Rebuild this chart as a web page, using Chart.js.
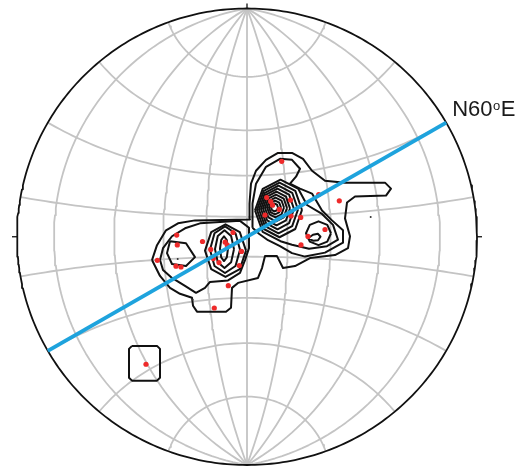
<!DOCTYPE html>
<html>
<head>
<meta charset="utf-8">
<script src="https://cdn.jsdelivr.net/npm/chart.js@4.4.1/dist/chart.umd.min.js"></script>
<style>
  html, body { margin: 0; padding: 0; background: #fff; }
  #wrap { width: 520px; height: 469px; }
</style>
</head>
<body>
<div id="wrap"><canvas id="net" width="520" height="469"></canvas></div>
<script>
// equal-angle (Wulff) net, radius in plot units
const netRadius = 23;
const greatCircleDips = [10, 30, 50, 70];
const smallCircleCones = [20, 40, 60, 80];
const lineTrend = 60;

// projected poles
const poleX = [3.47, 1.97, 2.37, 2.55, 4.35, 3.23, 1.80, 4.40, 5.37, 7.17, 9.23, 7.80, 6.10, 5.40,
  -7.03, -6.97, -8.97, -7.10, -6.60, -4.45, -3.63, -2.18, -1.97, -1.40, -3.37, -2.80, -0.55, -0.77,
  -1.87, -3.27, -10.10];
const poleY = [7.60, 3.95, 3.55, 3.18, 3.70, 2.75, 2.18, 2.10, 1.95, 4.25, 3.62, 0.73, 0.03, -0.82,
  0.17, -0.82, -2.38, -2.97, -3.05, -0.48, -1.28, -0.55, -0.85, 0.43, -2.20, -2.60, -1.48, -2.90,
  -4.93, -7.18, -12.85];
const minorX = [12.37, -6.93, -5.43];
const minorY = [1.98, -2.25, -6.35];

// density contours
const contourOuter = [[-9.5,-2.35],[-9.0,-0.85],[-8.1,0.65],[-6.9,1.35],[-5.2,1.65],[0.3,1.75],[0.25,3.35],
  [0.4,5.35],[0.9,6.65],[1.9,7.75],[3.1,8.45],[4.5,8.45],[5.6,7.85],[6.5,6.65],[7.8,5.65],[9.8,5.45],
  [13.8,5.45],[14.4,4.85],[13.9,4.15],[10.8,4.05],[10.0,3.45],[9.8,1.85],[10.3,0.05],[10.1,-1.15],
  [8.8,-1.85],[6.3,-2.15],[4.8,-2.95],[3.6,-3.15],[3.0,-1.95],[1.8,-1.95],[1.5,-3.15],[1.1,-4.15],
  [-0.9,-4.65],[-1.5,-5.15],[-1.6,-7.15],[-2.1,-7.55],[-5.0,-7.55],[-5.4,-6.95],[-5.5,-6.15],
  [-6.7,-5.75],[-7.7,-5.15],[-8.7,-3.95],[-9.5,-2.35]];
const contourLeft2 = [[-8.7,-2.35],[-8.4,-1.15],[-7.5,0.05],[-6.2,0.85],[-4.7,1.35],[-0.7,1.6],[0.2,0.9],
  [0.2,-1.15],[-0.2,-2.35],[-0.7,-3.65],[-1.9,-4.4],[-3.7,-4.55],[-4.2,-5.15],[-5.1,-5.65],[-6.2,-4.95],
  [-7.5,-4.15],[-8.4,-3.35],[-8.7,-2.35]];
const contourLeft3 = [[-7.7,-0.45],[-6.1,-0.65],[-5.2,-2.05],[-6.1,-2.95],[-7.5,-2.75],[-8.0,-1.65],[-7.7,-0.45]];
const contourMid = [
  [[-0.1,-1.4],[-0.72,0.46],[-2.15,1.25],[-3.58,0.46],[-4.2,-1.4],[-3.58,-3.26],[-2.15,-4.05],[-0.72,-3.26],[-0.1,-1.4]],
  [[-0.7,-1.3],[-1.15,0.35],[-2.2,1.05],[-3.25,0.35],[-3.7,-1.3],[-3.25,-2.95],[-2.2,-3.65],[-1.15,-2.95],[-0.7,-1.3]],
  [[-1.3,-1.25],[-1.59,0.08],[-2.25,0.65],[-2.92,0.08],[-3.2,-1.25],[-2.92,-2.58],[-2.25,-3.15],[-1.59,-2.58],[-1.3,-1.25]],
  [[-1.9,-1.2],[-2.02,-0.33],[-2.3,0.05],[-2.58,-0.33],[-2.7,-1.2],[-2.58,-2.08],[-2.3,-2.45],[-2.02,-2.08],[-1.9,-1.2]]
];
const contourRight2 = [[0.55,0.9],[0.55,3.35],[0.9,5.35],[1.9,7.05],[3.3,7.85],[4.5,7.75],[5.3,6.85],[4.9,6.05],
  [4.3,5.35],[5.3,4.85],[6.5,4.35],[7.5,2.65],[8.5,1.65],[9.6,0.65],[9.6,-0.6],[7.8,-1.6],[5.8,-2.0],
  [4.5,-1.65],[3.3,-0.95],[2.1,-0.35],[1.2,0.3],[0.55,0.9]];
const contourRight3 = [[0.8,2.65],[1.57,4.82],[3.35,5.75],[5.14,4.82],[6.0,3.2],[7.5,2.3],[8.6,1.2],[9.1,-0.3],
  [8.0,-0.95],[6.2,-1.2],[4.5,-0.8],[3.35,-0.45],[1.57,0.48],[0.8,2.65]];
const contourPeak = [
  [[5.5,2.7],[4.83,4.63],[3.25,5.45],[1.68,4.63],[1.0,2.7],[1.68,0.78],[3.25,-0.05],[4.83,0.78],[5.5,2.7]],
  [[5.1,2.75],[4.52,4.43],[3.15,5.15],[1.79,4.43],[1.2,2.75],[1.79,1.07],[3.15,0.35],[4.52,1.07],[5.1,2.75]],
  [[4.7,2.8],[4.21,4.24],[3.05,4.85],[1.9,4.24],[1.4,2.8],[1.9,1.37],[3.05,0.75],[4.21,1.37],[4.7,2.8]],
  [[4.3,2.85],[3.9,4.04],[2.95,4.55],[2.01,4.04],[1.6,2.85],[2.01,1.66],[2.95,1.15],[3.9,1.66],[4.3,2.85]],
  [[4.0,2.9],[3.67,3.85],[2.9,4.25],[2.13,3.85],[1.8,2.9],[2.13,1.96],[2.9,1.55],[3.67,1.96],[4.0,2.9]],
  [[3.7,2.95],[3.45,3.65],[2.85,3.95],[2.26,3.65],[2.0,2.95],[2.26,2.25],[2.85,1.95],[3.45,2.25],[3.7,2.95]],
  [[3.4,2.95],[3.22,3.44],[2.8,3.65],[2.38,3.44],[2.2,2.95],[2.38,2.46],[2.8,2.25],[3.22,2.46],[3.4,2.95]],
  [[3.1,2.95],[3.0,3.23],[2.75,3.35],[2.51,3.23],[2.4,2.95],[2.51,2.67],[2.75,2.55],[3.0,2.67],[3.1,2.95]]
];
const contourSide = [
  [[8.4,0.35],[8.03,1.19],[7.15,1.55],[6.28,1.19],[5.9,0.35],[6.28,-0.49],[7.15,-0.85],[8.03,-0.49],[8.4,0.35]],
  [[6.1,-0.15],[6.6,0.2],[7.1,0.3],[7.35,0.0],[7.1,-0.35],[6.6,-0.4],[6.1,-0.15]]
];
const contourSingle = [[-11.5,-11.0],[-9.0,-11.0],[-8.7,-11.3],[-8.7,-14.2],[-9.0,-14.5],[-11.5,-14.5],
  [-11.8,-14.2],[-11.8,-11.3],[-11.5,-11.0]];

const rad = d => d * Math.PI / 180;
// distance from centre for an angle measured from the centre of the net
const wulff = a => netRadius * Math.tan(rad(a) / 2);

function greatCircle(dip, side) {
  const d = wulff(90 - dip);
  const c = (d * d - netRadius * netRadius) / (2 * d);
  const r = d - c;
  const phiMax = Math.atan2(netRadius, -c);
  const pts = [];
  for (let i = 0; i <= 90; i++) {
    const phi = -phiMax + 2 * phiMax * i / 90;
    pts.push({ x: side * (c + r * Math.cos(phi)), y: r * Math.sin(phi) });
  }
  return pts;
}

function smallCircle(cone, pole) {
  const y1 = wulff(90 - cone), y2 = wulff(90 + cone);
  const yc = (y1 + y2) / 2, rs = (y2 - y1) / 2;
  const psiMax = Math.atan2(netRadius * Math.sin(rad(cone)), yc - netRadius * Math.cos(rad(cone)));
  const pts = [];
  for (let i = 0; i <= 90; i++) {
    const psi = -psiMax + 2 * psiMax * i / 90;
    pts.push({ x: rs * Math.sin(psi), y: pole * (yc - rs * Math.cos(psi)) });
  }
  return pts;
}

const toXY = arr => arr.map(p => ({ x: p[0], y: p[1] }));

const lineStyle = (data, color, width, order) => ({
  data, showLine: true, borderColor: color, borderWidth: width, pointRadius: 0,
  fill: false, tension: 0, clip: false, order, borderJoinStyle: 'round', borderCapStyle: 'butt'
});

const datasets = [];

// grid
greatCircleDips.forEach(dip => {
  datasets.push(lineStyle(greatCircle(dip, 1), '#c4c4c4', 1.8, 5));
  datasets.push(lineStyle(greatCircle(dip, -1), '#c4c4c4', 1.8, 5));
});
smallCircleCones.forEach(cone => {
  datasets.push(lineStyle(smallCircle(cone, 1), '#c4c4c4', 1.8, 5));
  datasets.push(lineStyle(smallCircle(cone, -1), '#c4c4c4', 1.8, 5));
});
datasets.push(lineStyle([{ x: 0, y: netRadius }, { x: 0, y: -netRadius }], '#c4c4c4', 1.8, 5));

// primitive circle and ticks
const primitive = [];
for (let i = 0; i <= 360; i++) {
  primitive.push({ x: netRadius * Math.sin(rad(i)), y: netRadius * Math.cos(rad(i)) });
}
datasets.push(lineStyle(primitive, '#111', 1.8, 4));
datasets.push(lineStyle([{ x: 0, y: netRadius }, { x: 0, y: netRadius + 0.5 }], '#111', 1.3, 4));
datasets.push(lineStyle([{ x: netRadius, y: 0 }, { x: netRadius + 0.5, y: 0 }], '#111', 1.3, 4));
datasets.push(lineStyle([{ x: -netRadius, y: 0 }, { x: -netRadius - 0.5, y: 0 }], '#111', 1.3, 4));

// contours
[contourOuter, contourLeft2, contourLeft3, ...contourMid, contourRight2, contourRight3, ...contourPeak,
  ...contourSide, contourSingle].forEach(c => {
  datasets.push(lineStyle(toXY(c), '#111', 2, 3));
});

// poles
datasets.push({
  data: poleX.map((x, i) => ({ x, y: poleY[i] })),
  pointRadius: 2.6, pointBackgroundColor: '#ee2a2a', pointBorderWidth: 0, showLine: false, order: 2, clip: false
});
datasets.push({
  data: minorX.map((x, i) => ({ x, y: minorY[i] })),
  pointRadius: 1, pointBackgroundColor: '#333', pointBorderWidth: 0, showLine: false, order: 2, clip: false
});

// trend line N60E
const tx = netRadius * Math.sin(rad(lineTrend)), ty = netRadius * Math.cos(rad(lineTrend));
datasets.push(lineStyle([{ x: -tx, y: -ty }, { x: tx, y: ty }], '#1ea3dd', 4, 0));

const trendLabel = {
  id: 'trendLabel',
  afterDatasetsDraw(chart) {
    const { ctx, scales } = chart;
    const px = scales.x.getPixelForValue(tx);
    const py = scales.y.getPixelForValue(ty);
    ctx.save();
    ctx.fillStyle = '#1a1a1a';
    ctx.textBaseline = 'alphabetic';
    let x = px + 6;
    const base = py - 6.5;
    ctx.font = '22px "Liberation Sans", Arial, sans-serif';
    ctx.fillText('N60', x, base);
    x += ctx.measureText('N60').width + 0.5;
    ctx.font = '13px "Liberation Sans", Arial, sans-serif';
    ctx.fillText('o', x, base - 6);
    x += ctx.measureText('o').width + 0.5;
    ctx.font = '22px "Liberation Sans", Arial, sans-serif';
    ctx.fillText('E', x, base);
    ctx.restore();
  }
};

new Chart(document.getElementById('net'), {
  type: 'scatter',
  data: { datasets },
  options: {
    responsive: false,
    animation: false,
    layout: { padding: { left: 17, right: 43, top: 8.5, bottom: 0.5 } },
    plugins: { legend: { display: false }, tooltip: { enabled: false } },
    scales: {
      x: { type: 'linear', min: -netRadius, max: netRadius, display: false },
      y: { type: 'linear', min: -netRadius, max: netRadius, display: false }
    }
  },
  plugins: [trendLabel]
});
</script>
</body>
</html>
